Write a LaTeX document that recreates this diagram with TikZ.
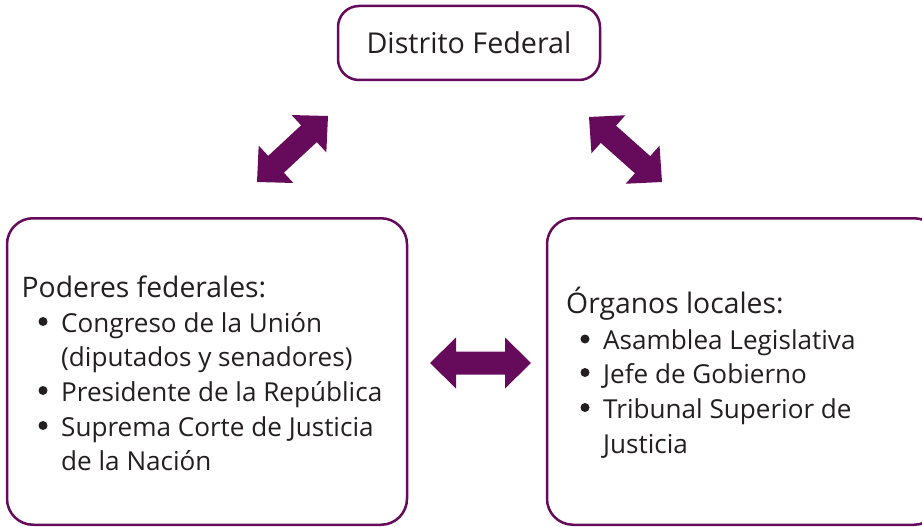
\documentclass[tikz,border=0pt]{standalone}
\usepackage{fontspec}
\setmainfont{Open Sans}
\usetikzlibrary{calc}
\definecolor{purp}{HTML}{660B5B}
\definecolor{ink}{HTML}{231F20}
\newcommand{\blockarrow}[2]{%
  \coordinate (ba1) at ($(#1)!26pt!(#2)$);
  \coordinate (ba2) at ($(#2)!26pt!(#1)$);
  \fill[arrowfill] (#1)
    -- ($(ba1)!25.5pt!90:(#2)$) -- ($(ba1)!11.5pt!90:(#2)$)
    -- ($(ba2)!11.5pt!-90:(#1)$) -- ($(ba2)!25.5pt!-90:(#1)$)
    -- (#2)
    -- ($(ba2)!25.5pt!90:(#1)$) -- ($(ba2)!11.5pt!90:(#1)$)
    -- ($(ba1)!11.5pt!-90:(#2)$) -- ($(ba1)!25.5pt!-90:(#2)$)
    -- cycle;}
\begin{document}
\begin{tikzpicture}[x=1pt,y=-1pt,
  box/.style={draw=purp, line width=2.5pt, fill=white, inner sep=0pt},
  title/.style={text=ink, font=\fontsize{28.7}{34}\selectfont},
  head/.style={text=ink, inner sep=0pt, anchor=base west, font=\fontsize{28.3}{34}\selectfont},
  txt/.style={text=ink, inner sep=0pt, anchor=base west, font=\fontsize{26.1}{31}\selectfont},
  dot/.style={circle, fill=ink, inner sep=0pt, minimum size=9pt},
  arrowfill/.style={fill=purp}]
\useasboundingbox (0,0) rectangle (922,527);
\clip (0,0) rectangle (922,527);
% boxes
\node[box, minimum width=262pt, minimum height=74pt, rounded corners=21pt, title] (df) at (469,43) {Distrito Federal};
\node[box, minimum width=400pt, minimum height=306.5pt, rounded corners=26pt] (fed) at (207,371.5) {};
\node[box, minimum width=393pt, minimum height=306.5pt, rounded corners=26pt] (loc) at (743.5,371.5) {};
% left texts
\node[head] (f0) at (21.5,297) {Poderes federales:};
\node[dot] (fb1) at (43,321.5) {};
\node[txt] (f1) at (61,332) {Congreso de la Unión};
\node[txt] (f2) at (61,366.5) {(diputados y senadores)};
\node[dot] (fb3) at (43,390.5) {};
\node[txt] (f3) at (61,401) {Presidente de la República};
\node[dot] (fb4) at (43,425.5) {};
\node[txt] (f4) at (61,436) {Suprema Corte de Justicia};
\node[txt] (f5) at (61,470) {de la Nación};
% right texts
\node[head] (l0) at (566,313.5) {Órganos locales:};
\node[dot] (lb1) at (585,339) {};
\node[txt] (l1) at (603,349.5) {Asamblea Legislativa};
\node[dot] (lb2) at (585,372.5) {};
\node[txt] (l2) at (603,383) {Jefe de Gobierno};
\node[dot] (lb3) at (585,407.5) {};
\node[txt] (l3) at (603,418) {Tribunal Superior de};
\node[txt] (l4) at (603,453) {Justicia};
% arrow tips
\coordinate (a1s) at (257,182);
\coordinate (a1e) at (328,116);
\coordinate (a2s) at (589,117);
\coordinate (a2e) at (662,182);
\coordinate (a3s) at (430,363);
\coordinate (a3e) at (531,363);
\blockarrow{a1s}{a1e}
\blockarrow{a2s}{a2e}
\blockarrow{a3s}{a3e}
\end{tikzpicture}
\end{document}
